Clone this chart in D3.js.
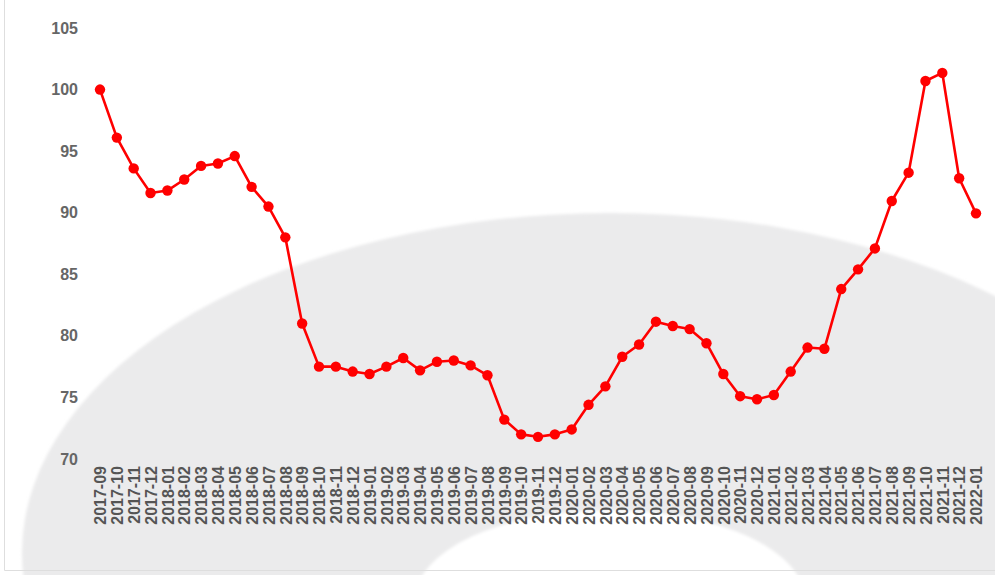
<!DOCTYPE html>
<html>
<head>
<meta charset="utf-8">
<script src="https://cdn.jsdelivr.net/npm/d3@7/dist/d3.min.js"></script>
<style>
  html, body { margin: 0; padding: 0; background: #fff; }
  svg { display: block; }
</style>
</head>
<body>
<svg id="chart" width="995" height="575"></svg>
<script>
// Monthly index values, 2017-09 .. 2022-01
const months = [
  "2017-09","2017-10","2017-11","2017-12",
  "2018-01","2018-02","2018-03","2018-04","2018-05","2018-06","2018-07","2018-08","2018-09","2018-10","2018-11","2018-12",
  "2019-01","2019-02","2019-03","2019-04","2019-05","2019-06","2019-07","2019-08","2019-09","2019-10","2019-11","2019-12",
  "2020-01","2020-02","2020-03","2020-04","2020-05","2020-06","2020-07","2020-08","2020-09","2020-10","2020-11","2020-12",
  "2021-01","2021-02","2021-03","2021-04","2021-05","2021-06","2021-07","2021-08","2021-09","2021-10","2021-11","2021-12",
  "2022-01"
];
const indexValues = [
  100.0, 96.1, 93.6, 91.6,
  91.8, 92.7, 93.8, 94.0, 94.6, 92.1, 90.5, 88.0, 81.0, 77.5, 77.5, 77.1,
  76.9, 77.5, 78.2, 77.2, 77.9, 78.0, 77.6, 76.8, 73.2, 72.0, 71.8, 72.0,
  72.4, 74.4, 75.9, 78.3, 79.3, 81.15, 80.8, 80.55, 79.4, 76.9, 75.1, 74.85,
  75.2, 77.1, 79.05, 78.95, 83.8, 85.4, 87.1, 90.95, 93.25, 100.7, 101.35, 92.8,
  89.95
];
const yTicks = [70, 75, 80, 85, 90, 95, 100, 105];

const svg = d3.select("#chart");
const W = 995, H = 575;

// Soft grey emblem in the background
const defs = svg.append("defs");
defs.append("filter").attr("id", "soft")
  .attr("x", "-10%").attr("y", "-10%").attr("width", "120%").attr("height", "120%")
  .append("feGaussianBlur").attr("stdDeviation", 1.5);

const emblem = svg.append("g").attr("filter", "url(#soft)");
emblem.append("ellipse")
  .attr("cx", 610).attr("cy", 553).attr("rx", 588).attr("ry", 340)
  .attr("fill", "#ebebec");
emblem.append("ellipse")
  .attr("cx", 610).attr("cy", 600).attr("rx", 195).attr("ry", 90)
  .attr("fill", "#ffffff");

// Frame
svg.append("path")
  .attr("d", `M4.5,0 V570.5 H${W}`)
  .attr("fill", "none")
  .attr("stroke", "#dedede")
  .attr("stroke-width", 1);

// Scales
const x = d3.scalePoint().domain(months).range([100, 976]);
const y = d3.scaleLinear().domain([70, 105]).range([459, 28]);

// Y axis labels
const yAxis = d3.axisLeft(y).tickValues(yTicks).tickSize(0).tickPadding(0);
const gy = svg.append("g").attr("transform", "translate(78,0)").call(yAxis);
gy.select(".domain").remove();
gy.selectAll("text")
  .attr("fill", "#666")
  .style("font-family", "'Liberation Sans', Arial, sans-serif")
  .style("font-size", "16px")
  .style("font-weight", "bold");

// X axis labels, rotated
const xAxis = d3.axisBottom(x).tickSize(0).tickPadding(0);
const gx = svg.append("g").attr("transform", "translate(0,466)").call(xAxis);
gx.select(".domain").remove();
gx.selectAll("text")
  .attr("fill", "#555")
  .attr("text-anchor", "end")
  .attr("transform", "rotate(-90)")
  .attr("x", 0)
  .attr("y", 0)
  .attr("dy", "0.36em")
  .style("font-family", "'Liberation Sans', Arial, sans-serif")
  .style("font-size", "16px")
  .style("font-weight", "bold");

// Series line and markers
const series = months.map((m, i) => ({ m, v: indexValues[i] }));
svg.append("path")
  .datum(series)
  .attr("fill", "none")
  .attr("stroke", "#ff0000")
  .attr("stroke-width", 2.6)
  .attr("stroke-linejoin", "round")
  .attr("d", d3.line().x(d => x(d.m)).y(d => y(d.v)));

svg.append("g").selectAll("circle")
  .data(series)
  .join("circle")
  .attr("cx", d => x(d.m))
  .attr("cy", d => y(d.v))
  .attr("r", 5.2)
  .attr("fill", "#ff0000");
</script>
</body>
</html>
